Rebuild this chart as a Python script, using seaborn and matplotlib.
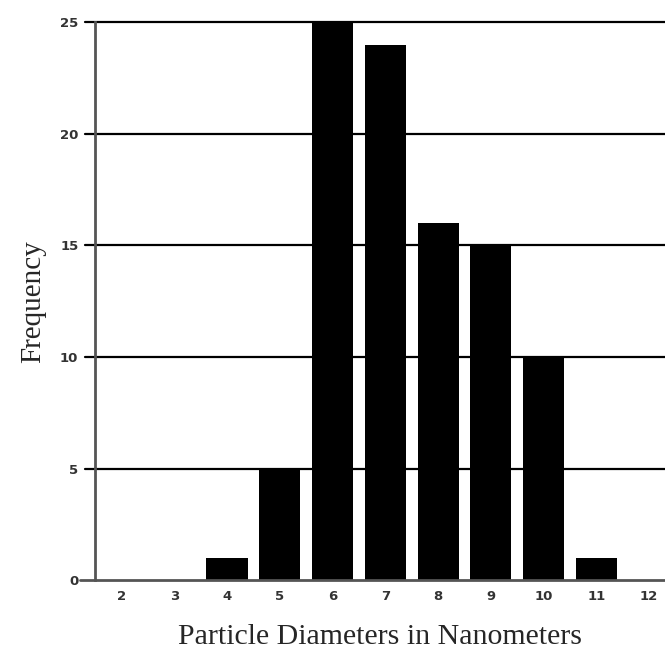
import matplotlib
matplotlib.use("Agg")
import matplotlib.pyplot as plt
import pandas as pd
import seaborn as sns

diameters = ["2", "3", "4", "5", "6", "7", "8", "9", "10", "11", "12"]
frequency = [0, 0, 1, 5, 25, 24, 16, 15, 10, 1, 0]
y_ticks = [0, 5, 10, 15, 20, 25]

df = pd.DataFrame({"Diameter": diameters, "Frequency": frequency})

sns.set_style("white")
fig = plt.figure(figsize=(6.65, 6.54), dpi=100)
ax = fig.add_axes([0.143, 0.113, 0.857, 0.853])

# horizontal grid lines at each y tick, running past the left spine
for y in y_ticks[1:]:
    ax.axhline(y, xmin=-0.018, xmax=1, color="black", lw=1.6,
               zorder=1, clip_on=False)

sns.barplot(data=df, x="Diameter", y="Frequency", order=diameters,
            color="black", width=0.78, saturation=1, linewidth=0,
            edgecolor="black", ax=ax, zorder=2)

ax.set_xlim(-0.5, 10.3)
ax.set_ylim(0, 25)
ax.set_yticks(y_ticks)
ax.set_yticklabels([str(v) for v in y_ticks], fontsize=9.5,
                   fontweight="semibold", color="#333333")
ax.set_xticks(range(len(diameters)))
ax.set_xticklabels(diameters, fontsize=9.5, fontweight="semibold",
                   color="#333333")
ax.tick_params(axis="x", length=0, pad=7)
ax.tick_params(axis="y", length=0, pad=12)

for side in ["top", "right"]:
    ax.spines[side].set_visible(False)
ax.spines["left"].set_color("#555555")
ax.spines["left"].set_linewidth(2)
ax.spines["bottom"].set_visible(False)
ax.plot([-0.78, 10.3], [0, 0], color="#555555", lw=2, clip_on=False, zorder=3)

ax.set_xlabel("Particle Diameters in Nanometers", family="Liberation Serif",
              fontsize=21.5, labelpad=15)
ax.set_ylabel("Frequency", family="Liberation Serif", fontsize=21,
              labelpad=10)

fig.savefig("out.png", dpi=100)
